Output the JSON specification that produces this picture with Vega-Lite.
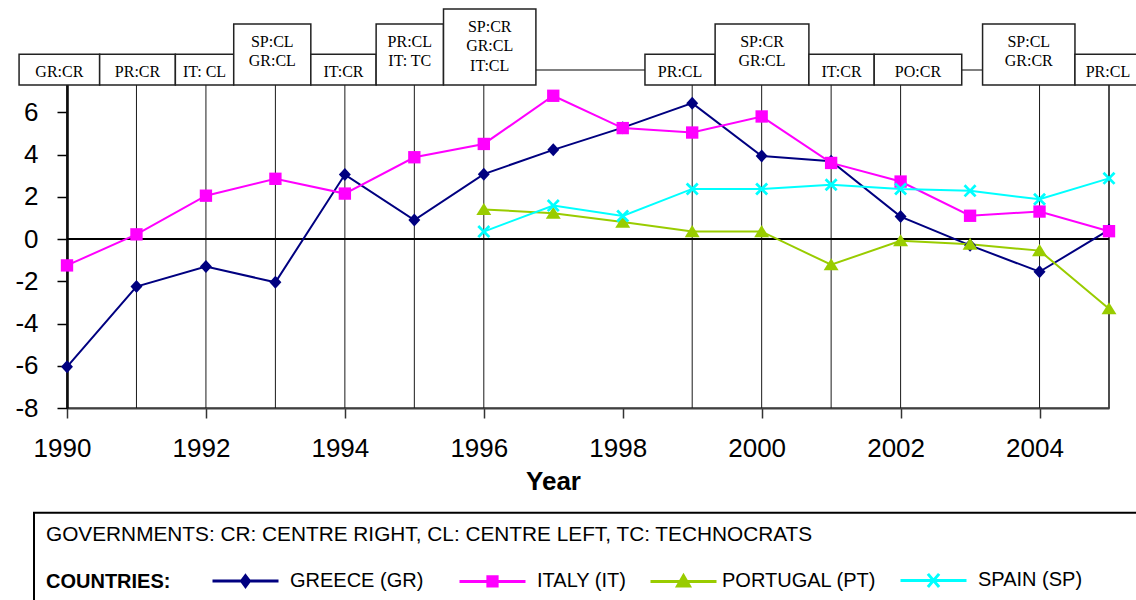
{
  "$schema": "https://vega.github.io/schema/vega-lite/v6.json",
  "width": 1042,
  "height": 338,
  "autosize": {"type": "none"},
  "padding": {"left": 67, "top": 70, "right": 27, "bottom": 192},
  "background": "white",
  "config": {
    "view": {"stroke": "#808080", "strokeWidth": 2}
  },
  "datasets": {
    "series": [
      {"year": 1990, "country": "GREECE (GR)", "value": -6.05},
      {"year": 1991, "country": "GREECE (GR)", "value": -2.25},
      {"year": 1992, "country": "GREECE (GR)", "value": -1.3},
      {"year": 1993, "country": "GREECE (GR)", "value": -2.05},
      {"year": 1994, "country": "GREECE (GR)", "value": 3.05},
      {"year": 1995, "country": "GREECE (GR)", "value": 0.9},
      {"year": 1996, "country": "GREECE (GR)", "value": 3.07},
      {"year": 1997, "country": "GREECE (GR)", "value": 4.22},
      {"year": 1998, "country": "GREECE (GR)", "value": 5.27},
      {"year": 1999, "country": "GREECE (GR)", "value": 6.43},
      {"year": 2000, "country": "GREECE (GR)", "value": 3.93},
      {"year": 2001, "country": "GREECE (GR)", "value": 3.68},
      {"year": 2002, "country": "GREECE (GR)", "value": 1.06},
      {"year": 2003, "country": "GREECE (GR)", "value": -0.3},
      {"year": 2004, "country": "GREECE (GR)", "value": -1.55},
      {"year": 2005, "country": "GREECE (GR)", "value": 0.43},
      {"year": 1990, "country": "ITALY (IT)", "value": -1.25},
      {"year": 1991, "country": "ITALY (IT)", "value": 0.22},
      {"year": 1992, "country": "ITALY (IT)", "value": 2.05},
      {"year": 1993, "country": "ITALY (IT)", "value": 2.85},
      {"year": 1994, "country": "ITALY (IT)", "value": 2.15},
      {"year": 1995, "country": "ITALY (IT)", "value": 3.87},
      {"year": 1996, "country": "ITALY (IT)", "value": 4.5},
      {"year": 1997, "country": "ITALY (IT)", "value": 6.78},
      {"year": 1998, "country": "ITALY (IT)", "value": 5.25},
      {"year": 1999, "country": "ITALY (IT)", "value": 5.04},
      {"year": 2000, "country": "ITALY (IT)", "value": 5.8},
      {"year": 2001, "country": "ITALY (IT)", "value": 3.6},
      {"year": 2002, "country": "ITALY (IT)", "value": 2.72},
      {"year": 2003, "country": "ITALY (IT)", "value": 1.1},
      {"year": 2004, "country": "ITALY (IT)", "value": 1.3},
      {"year": 2005, "country": "ITALY (IT)", "value": 0.37},
      {"year": 1996, "country": "PORTUGAL (PT)", "value": 1.4},
      {"year": 1997, "country": "PORTUGAL (PT)", "value": 1.22},
      {"year": 1998, "country": "PORTUGAL (PT)", "value": 0.8},
      {"year": 1999, "country": "PORTUGAL (PT)", "value": 0.35},
      {"year": 2000, "country": "PORTUGAL (PT)", "value": 0.35},
      {"year": 2001, "country": "PORTUGAL (PT)", "value": -1.22},
      {"year": 2002, "country": "PORTUGAL (PT)", "value": -0.08},
      {"year": 2003, "country": "PORTUGAL (PT)", "value": -0.25},
      {"year": 2004, "country": "PORTUGAL (PT)", "value": -0.55},
      {"year": 2005, "country": "PORTUGAL (PT)", "value": -3.3},
      {"year": 1996, "country": "SPAIN (SP)", "value": 0.35},
      {"year": 1997, "country": "SPAIN (SP)", "value": 1.58},
      {"year": 1998, "country": "SPAIN (SP)", "value": 1.09},
      {"year": 1999, "country": "SPAIN (SP)", "value": 2.37},
      {"year": 2000, "country": "SPAIN (SP)", "value": 2.37},
      {"year": 2001, "country": "SPAIN (SP)", "value": 2.57},
      {"year": 2002, "country": "SPAIN (SP)", "value": 2.37},
      {"year": 2003, "country": "SPAIN (SP)", "value": 2.28},
      {"year": 2004, "country": "SPAIN (SP)", "value": 1.88},
      {"year": 2005, "country": "SPAIN (SP)", "value": 2.87}
    ],
    "govts": [
      {"year": 1990, "from": 1989.31, "to": 1990.47, "label": "GR:CR"},
      {"year": 1991, "from": 1990.47, "to": 1991.56, "label": "PR:CR"},
      {"year": 1992, "from": 1991.56, "to": 1992.4, "label": "IT: CL"},
      {"year": 1993, "from": 1992.4, "to": 1993.51, "label": "SP:CL|GR:CL"},
      {"year": 1994, "from": 1993.51, "to": 1994.45, "label": "IT:CR"},
      {"year": 1995, "from": 1994.45, "to": 1995.42, "label": "PR:CL|IT: TC"},
      {"year": 1996, "from": 1995.42, "to": 1996.75, "label": "SP:CR|GR:CL|IT:CL"},
      {"year": 1999, "from": 1998.32, "to": 1999.33, "label": "PR:CL"},
      {"year": 2000, "from": 1999.33, "to": 2000.68, "label": "SP:CR|GR:CL"},
      {"year": 2001, "from": 2000.68, "to": 2001.62, "label": "IT:CR"},
      {"year": 2002, "from": 2001.62, "to": 2002.88, "label": "PO:CR"},
      {"year": 2004, "from": 2003.18, "to": 2004.51, "label": "SP:CL|GR:CR"},
      {"year": 2005, "from": 2004.51, "to": 2005.46, "label": "PR:CL"}
    ]
  },
  "resolve": {"scale": {"shape": "independent", "fill": "independent", "stroke": "independent"}},
  "layer": [
    {
      "data": {"name": "govts"},
      "mark": {"type": "rule", "color": "#1a1a1a", "strokeWidth": 1},
      "encoding": {
        "x": {"field": "year", "type": "quantitative"},
        "y": {"datum": -8, "type": "quantitative"},
        "y2": {"datum": 8}
      }
    },
    {
      "data": {"values": [{}]},
      "mark": {"type": "rule", "color": "black", "strokeWidth": 2},
      "encoding": {"y": {"datum": 0, "type": "quantitative"}}
    },
    {
      "data": {"name": "series"},
      "mark": {"type": "line", "strokeWidth": 2},
      "encoding": {
        "x": {
          "field": "year", "type": "quantitative",
          "scale": {"domain": [1990, 2005], "nice": false, "zero": false},
          "axis": {
            "values": [1990, 1992, 1994, 1996, 1998, 2000, 2002, 2004],
            "format": "d", "title": "Year", "grid": false,
            "labelFont": "Liberation Sans", "labelFontSize": 26, "labelColor": "black",
            "labelPadding": 17, "labelOffset": -5, "labelFlush": false, "labelOverlap": false,
            "tickSize": 10, "tickWidth": 1.5, "tickColor": "#333333",
            "domainColor": "#404040", "domainWidth": 2,
            "titleFont": "Liberation Sans", "titleFontSize": 26, "titleFontWeight": "bold",
            "titleColor": "black", "titlePadding": 7, "titleX": 486
          }
        },
        "y": {
          "field": "value", "type": "quantitative",
          "scale": {"domain": [-8, 8], "nice": false, "zero": false},
          "axis": {
            "values": [-8, -6, -4, -2, 0, 2, 4, 6],
            "labelExpr": "toString(datum.value)",
            "title": null, "grid": false,
            "labelFont": "Liberation Sans", "labelFontSize": 26, "labelColor": "black",
            "labelPadding": 19, "labelFlush": false, "labelOverlap": false,
            "tickSize": 10, "tickWidth": 1.5, "tickColor": "black",
            "domainColor": "black", "domainWidth": 2.5
          }
        },
        "color": {
          "field": "country", "type": "nominal",
          "scale": {"domain": ["GREECE (GR)", "ITALY (IT)", "PORTUGAL (PT)", "SPAIN (SP)"], "range": ["#000080", "#FF00FF", "#99CC00", "#00FFFF"]},
          "legend": null
        },
        "detail": {"field": "country"}
      }
    },
    {
      "data": {"name": "series"},
      "mark": {"type": "point", "filled": true, "opacity": 1, "size": 169},
      "encoding": {
        "x": {"field": "year", "type": "quantitative"},
        "y": {"field": "value", "type": "quantitative"},
        "color": {
          "field": "country", "type": "nominal",
          "scale": {"domain": ["GREECE (GR)", "ITALY (IT)", "PORTUGAL (PT)", "SPAIN (SP)"], "range": ["#000080", "#FF00FF", "#99CC00", "#00FFFF"]},
          "legend": null
        },
        "shape": {
          "field": "country", "type": "nominal",
          "scale": {
            "domain": ["GREECE (GR)", "ITALY (IT)", "PORTUGAL (PT)", "SPAIN (SP)"],
            "range": [
              "M0,-1L0.92,0L0,1L-0.92,0Z",
              "M-0.95,-0.95H0.95V0.95H-0.95Z",
              "M0,-1L1.15,0.85L-1.15,0.85Z",
              "M-1,-0.7L-0.7,-1L0,-0.3L0.7,-1L1,-0.7L0.3,0L1,0.7L0.7,1L0,0.3L-0.7,1L-1,0.7L-0.3,0Z"
            ]
          },
          "legend": null
        }
      }
    },
    {
      "data": {"name": "govts"},
      "transform": [
        {"calculate": "length(split(datum.label, '|'))", "as": "lines"},
        {"calculate": "datum.lines == 1 ? 8.74 : (datum.lines == 2 ? 10.18 : 10.89)", "as": "top"}
      ],
      "mark": {"type": "rect", "fill": "white", "stroke": "#222222", "strokeWidth": 1.5},
      "encoding": {
        "x": {"field": "from", "type": "quantitative"},
        "x2": {"field": "to"},
        "y": {"field": "top", "type": "quantitative"},
        "y2": {"datum": 7.29}
      }
    },
    {
      "data": {"name": "govts"},
      "transform": [
        {"calculate": "length(split(datum.label, '|'))", "as": "lines"},
        {"calculate": "datum.lines == 1 ? 8.74 : (datum.lines == 2 ? 10.18 : 10.89)", "as": "top"},
        {"calculate": "(datum.from + datum.to) / 2", "as": "mid"}
      ],
      "mark": {"type": "text", "baseline": "top", "align": "center", "dy": 10, "lineBreak": "|", "lineHeight": 19.3, "font": "Liberation Serif", "fontSize": 16, "color": "black"},
      "encoding": {
        "x": {"field": "mid", "type": "quantitative"},
        "y": {"field": "top", "type": "quantitative"},
        "text": {"field": "label", "type": "nominal"}
      }
    },
    {
      "data": {"name": "series"},
      "transform": [{"filter": "false"}],
      "mark": {"type": "point", "filled": true, "opacity": 1},
      "encoding": {
        "fill": {
          "field": "country", "type": "nominal",
          "scale": {"domain": ["COUNTRIES:", "GREECE (GR)", "ITALY (IT)", "PORTUGAL (PT)", "SPAIN (SP)"], "range": ["white", "#000080", "#FF00FF", "#99CC00", "#00FFFF"]},
          "legend": {
            "title": "GOVERNMENTS:  CR: CENTRE RIGHT, CL: CENTRE LEFT, TC: TECHNOCRATS",
            "orient": "none", "legendX": -33, "legendY": 442.7,
            "direction": "horizontal",
            "titleOrient": "top", "titleAnchor": "start",
            "titleFont": "Liberation Sans", "titleFontSize": 20.8, "titleFontWeight": "normal",
            "titleColor": "black", "titlePadding": 0, "titleLimit": 2000,
            "labelFont": "Liberation Sans", "labelFontSize": 20, "labelColor": "black",
            "labelOffset": 10, "labelLimit": 600,
            "columnPadding": 17,
            "symbolSize": 4356,
            "symbolStrokeWidth": 3, "symbolOpacity": 1,
            "strokeColor": "black", "padding": 12,
            "encode": {
              "labels": {"update": {
                "fontWeight": {"signal": "datum.value === 'COUNTRIES:' ? 'bold' : 'normal'"},
                "dx": {"signal": "datum.value === 'COUNTRIES:' ? -79 : (datum.value === 'PORTUGAL (PT)' ? -6 : 0)"}
              }},
              "legend": {"update": {"strokeWidth": {"value": 2}}}
            }
          }
        },
        "stroke": {
          "field": "country", "type": "nominal",
          "scale": {"domain": ["COUNTRIES:", "GREECE (GR)", "ITALY (IT)", "PORTUGAL (PT)", "SPAIN (SP)"], "range": ["white", "#000080", "#FF00FF", "#99CC00", "#00FFFF"]}
        },
        "shape": {
          "field": "country", "type": "nominal",
          "scale": {
            "domain": ["COUNTRIES:", "GREECE (GR)", "ITALY (IT)", "PORTUGAL (PT)", "SPAIN (SP)"],
            "range": [
              "M0,0M3.08,0",
              "M-1,0H1M0,-0.16L0.12,0L0,0.16L-0.12,0ZM5.58,0",
              "M-1,0H1M-0.14,-0.14H0.14V0.14H-0.14Z",
              "M-1,0H1M0,-0.17L0.18,0.14L-0.18,0.14Z",
              "M-1,0H1M-0.17,-0.2L0.17,0.2M-0.17,0.2L0.17,-0.2M6.3,0"
            ]
          }
        }
      }
    }
  ]
}
